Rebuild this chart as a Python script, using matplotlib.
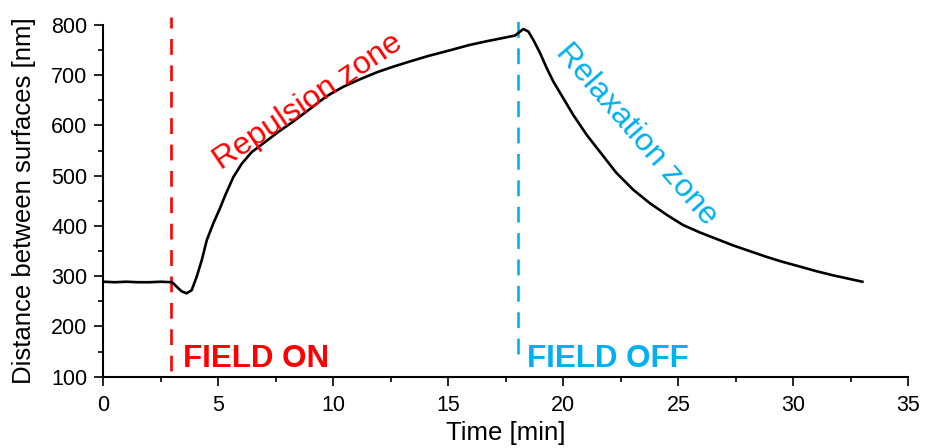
import numpy as np
import matplotlib.pyplot as plt
from matplotlib.ticker import MultipleLocator

plt.rcParams['font.family'] = ['Liberation Sans', 'DejaVu Sans']

# Distance between surfaces over time
time_min = [0, 0.5, 1, 1.5, 2, 2.5, 2.97, 3.04, 3.19, 3.4, 3.62, 3.84, 4.06,
            4.28, 4.5, 4.78, 5.07, 5.29, 5.65, 6.02, 6.45, 7.03, 7.6, 8.2,
            8.9, 9.7, 10.43, 11.16, 11.9, 12.6, 13.3, 14.1, 15.1, 15.9, 16.7,
            17.25, 17.9, 18.12, 18.26, 18.48, 18.7, 18.99, 19.28, 19.57, 20.0,
            20.43, 21.02, 21.6, 22.3, 23.04, 23.77, 24.5, 25.2, 25.94, 26.67,
            27.4, 28.1, 28.8, 29.5, 30.3, 31.0, 31.7, 32.4, 33.0]
distance_nm = [289, 288, 289, 288, 288, 289, 288, 286, 279, 270, 266, 272, 299,
               332, 372, 405, 435, 460, 497, 524, 547, 567, 587, 606,
               630, 658, 677, 692, 706, 717, 727, 738, 750, 760, 768,
               773, 779, 787, 792, 787, 770, 744, 714, 687, 654,
               621, 581, 547, 506, 472, 445, 422, 402, 387, 374,
               361, 350, 339, 329, 319, 310, 302, 295, 289]

field_on_t = 2.95
field_off_t = 18.05
red = '#ff0000'
blue = '#00b0f0'

fig = plt.figure(figsize=(9.25, 4.48), dpi=100)
ax = fig.add_axes([0.1117, 0.1592, 0.8703, 0.7850])

ax.plot(time_min, distance_nm, color='black', lw=1.9, zorder=3,
        solid_joinstyle='round')

# field switch markers
ax.plot([field_on_t, field_on_t], [112, 815], color=red, lw=1.9,
        ls=(0, (6, 4)), clip_on=False, zorder=2)
ax.plot([field_off_t, field_off_t], [146, 826], color=blue, lw=1.9,
        ls=(0, (6, 4)), clip_on=False, zorder=2)

ax.text(3.47, 120, 'FIELD ON', color=red, fontsize=22.5, fontweight='bold',
        ha='left', va='baseline')
ax.text(18.42, 120, 'FIELD OFF', color=blue, fontsize=22.5, fontweight='bold',
        ha='left', va='baseline')
ax.text(5.12, 510, 'Repulsion zone', color=red, fontsize=23, rotation=34,
        rotation_mode='anchor', ha='left', va='baseline')
ax.text(19.62, 744, 'Relaxation zone', color=blue, fontsize=23, rotation=-49,
        rotation_mode='anchor', ha='left', va='baseline')

ax.set_xlim(0, 35)
ax.set_ylim(100, 800)
ax.xaxis.set_major_locator(MultipleLocator(5))
ax.xaxis.set_minor_locator(MultipleLocator(2.5))
ax.yaxis.set_major_locator(MultipleLocator(100))
ax.yaxis.set_minor_locator(MultipleLocator(50))

for side in ['top', 'right']:
    ax.spines[side].set_visible(False)
for side in ['left', 'bottom']:
    ax.spines[side].set_linewidth(1.5)

ax.tick_params(which='major', direction='out', length=6.5, width=1.2,
               labelsize=15.5)
ax.tick_params(axis='x', which='major', pad=7)
ax.tick_params(axis='y', which='major', pad=5)
ax.tick_params(which='minor', direction='out', length=3.8, width=1.2)

ax.set_xlabel('Time [min]', fontsize=18.5, labelpad=3)
ax.set_ylabel('Distance between surfaces [nm]', fontsize=18.5, labelpad=11)

fig.savefig('out.png', dpi=100)
